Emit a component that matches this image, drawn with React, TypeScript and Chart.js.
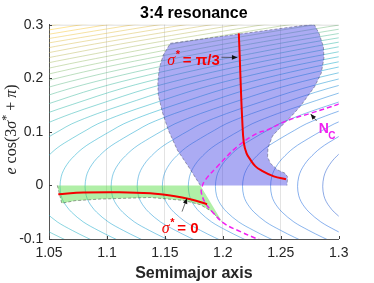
import { useEffect, useRef } from 'react';
import { Chart, registerables } from 'chart.js';

Chart.register(...registerables);

const W = 374;
const H = 283;

// ---------- axes ----------
const xTickValues = [1.05, 1.1, 1.15, 1.2, 1.25, 1.3];
const xTickLabels = ['1.05', '1.1', '1.15', '1.2', '1.25', '1.3'];
const yTickValues = [-0.1, 0, 0.1, 0.2, 0.3];
const yTickLabels = ['-0.1', '0', '0.1', '0.2', '0.3'];
const titleText = '3:4 resonance';
const xAxisTitle = 'Semimajor axis';

// ---------- contour levels (nose position of each level curve, right to left) ----------
const contourNoseA = [
  1.2862, 1.2645, 1.2412, 1.217, 1.1936, 1.1702, 1.1478, 1.1261, 1.1036, 1.0811,
  1.0595, 1.0371, 1.0147, 0.9923, 0.97, 0.9476, 0.9252, 0.9028, 0.8804, 0.858,
  0.8356, 0.8132, 0.7908, 0.7684, 0.746, 0.7236, 0.7012, 0.6788, 0.6564, 0.634,
];
const contourNoseY = -0.002;
// arc profile of a level curve measured from its nose (upper and lower branch)
const upperProfileDa = [0.001, 0.003, 0.006, 0.01, 0.02, 0.033, 0.045, 0.055, 0.077, 0.1, 0.143, 0.188, 0.232, 0.277, 0.321, 0.365, 0.41, 0.455];
const upperProfileDy = [0.018, 0.03, 0.041, 0.052, 0.072, 0.09, 0.105, 0.117, 0.136, 0.153, 0.183, 0.208, 0.229, 0.248, 0.266, 0.282, 0.298, 0.313];
const lowerProfileDa = [0.001, 0.003, 0.006, 0.01, 0.02, 0.033, 0.045, 0.055, 0.065];
const lowerProfileDy = [0.017, 0.028, 0.038, 0.048, 0.066, 0.082, 0.095, 0.105, 0.114];

// ---------- blue region ----------
const blueRegionA = [
  1.1806, 1.1711, 1.1607, 1.1529, 1.1478, 1.1443, 1.1439, 1.1452, 1.1486, 1.1547,
  1.2786, 1.283, 1.2868, 1.2873, 1.2849, 1.2792, 1.2729, 1.2671, 1.2602, 1.2516,
  1.2429, 1.239, 1.2386, 1.2412, 1.2473, 1.2537, 1.2559, 1.2554,
];
const blueRegionY = [
  0, 0.0326, 0.0662, 0.1035, 0.1371, 0.1688, 0.1931, 0.2192, 0.2435, 0.2653,
  0.3013, 0.284, 0.259, 0.2379, 0.2093, 0.1843, 0.1657, 0.1483, 0.1315, 0.1129,
  0.0924, 0.07, 0.0532, 0.041, 0.0289, 0.0228, 0.0159, 0,
];

// ---------- green region ----------
const greenRegionA = [1.0572, 1.061, 1.0725, 1.0941, 1.1374, 1.1662, 1.1806, 1.19, 1.1994, 1.1806];
const greenRegionY = [0, -0.0332, -0.0285, -0.0255, -0.0225, -0.028, -0.036, -0.048, -0.068, 0];

// ---------- red equilibrium branches ----------
const piBranchA = [1.2138, 1.2146, 1.2156, 1.2167, 1.2181, 1.2205, 1.2239, 1.228, 1.2325, 1.244, 1.2545];
const piBranchY = [0.284, 0.24, 0.18, 0.125, 0.08, 0.06, 0.0476, 0.036, 0.0289, 0.017, 0.0116];
const zeroBranchA = [1.058, 1.0797, 1.1086, 1.1374, 1.1575, 1.172, 1.1864];
const zeroBranchY = [-0.0164, -0.0134, -0.0127, -0.0146, -0.0196, -0.0257, -0.035];

// ---------- magenta Nc curve ----------
const ncA = [1.3005, 1.2758, 1.2556, 1.2383, 1.2297, 1.2124, 1.1951, 1.1849, 1.1821, 1.1815, 1.1849, 1.191, 1.2008, 1.2152, 1.2282, 1.233];
const ncY = [0.152, 0.1347, 0.121, 0.1035, 0.0974, 0.0724, 0.035, 0.0103, -0.002, -0.014, -0.0326, -0.0494, -0.0705, -0.0862, -0.0985, -0.102];

// ---------- annotations (data coordinates) ----------
const piLabelAt = { x: 1.1521, y: 0.2248 };
const zeroLabelAt = { x: 1.1473, y: -0.0896 };
const ncLabelAt = { x: 1.2827, y: 0.097 };
const piArrow = { x1: 1.1988, y1: 0.2392, x2: 1.2126, y2: 0.2388 };
const zeroArrow = { x1: 1.1648, y1: -0.0489, x2: 1.1691, y2: -0.0239 };
const ncArrow = { x1: 1.281, y1: 0.1203, x2: 1.2758, y2: 0.1334 };

// ---------- styling helpers ----------
const parulaStops = ['#352a87', '#0f5cdd', '#1481d6', '#06a4ca', '#2eb7a4', '#87bf77', '#d1bb59', '#fec832', '#f9fb0e'];
function hexToRgb(h: string) {
  return [parseInt(h.slice(1, 3), 16), parseInt(h.slice(3, 5), 16), parseInt(h.slice(5, 7), 16)];
}
function parula(t: number, alpha: number) {
  const s = Math.max(0, Math.min(1, t)) * (parulaStops.length - 1);
  const i = Math.min(parulaStops.length - 2, Math.floor(s));
  const f = s - i;
  const a = hexToRgb(parulaStops[i]);
  const b = hexToRgb(parulaStops[i + 1]);
  const c = a.map((v, j) => Math.round(v + (b[j] - v) * f));
  return `rgba(${c[0]},${c[1]},${c[2]},${alpha})`;
}
const zip = (xs: number[], ys: number[]) => xs.map((x, i) => ({ x, y: ys[i] }));

function contourPoints(noseA: number) {
  const pts: { x: number; y: number }[] = [];
  for (let i = lowerProfileDa.length - 1; i >= 0; i--) {
    pts.push({ x: noseA + lowerProfileDa[i], y: contourNoseY - lowerProfileDy[i] });
  }
  pts.push({ x: noseA, y: contourNoseY });
  for (let i = 0; i < upperProfileDa.length; i++) {
    pts.push({ x: noseA + upperProfileDa[i], y: contourNoseY + upperProfileDy[i] });
  }
  return pts;
}

function drawArrow(ctx: CanvasRenderingContext2D, x1: number, y1: number, x2: number, y2: number) {
  ctx.save();
  ctx.strokeStyle = '#303030';
  ctx.lineWidth = 0.7;
  ctx.beginPath();
  ctx.moveTo(x1, y1);
  ctx.lineTo(x2, y2);
  ctx.stroke();
  const ang = Math.atan2(y2 - y1, x2 - x1);
  const L = 5.5;
  const w = 2.3;
  const bx = x2 - L * Math.cos(ang);
  const by = y2 - L * Math.sin(ang);
  ctx.beginPath();
  ctx.moveTo(x2, y2);
  ctx.lineTo(bx - w * Math.sin(ang), by + w * Math.cos(ang));
  ctx.lineTo(bx + w * Math.sin(ang), by - w * Math.cos(ang));
  ctx.closePath();
  ctx.fillStyle = '#111';
  ctx.fill();
  ctx.restore();
}

const overlayPlugin = {
  id: 'overlay',
  afterDraw(chart: any) {
    const { ctx, chartArea: ca, scales } = chart;
    const px = (a: number) => scales.x.getPixelForValue(a);
    const py = (v: number) => scales.y.getPixelForValue(v);
    ctx.save();

    // faint top edge
    ctx.strokeStyle = 'rgba(38,38,38,0.15)';
    ctx.lineWidth = 1;
    ctx.beginPath();
    ctx.moveTo(ca.left, ca.top + 0.5);
    ctx.lineTo(ca.right, ca.top + 0.5);
    ctx.stroke();

    // inward tick marks
    ctx.strokeStyle = '#404040';
    ctx.lineWidth = 1;
    ctx.beginPath();
    xTickValues.forEach((v) => {
      const x = Math.round(px(v)) + 0.5;
      ctx.moveTo(x, ca.bottom);
      ctx.lineTo(x, ca.bottom - 3);
    });
    yTickValues.forEach((v) => {
      const y = Math.round(py(v)) + 0.5;
      ctx.moveTo(ca.left, y);
      ctx.lineTo(ca.left + 3, y);
    });
    ctx.stroke();

    // arrows
    drawArrow(ctx, px(piArrow.x1), py(piArrow.y1), px(piArrow.x2), py(piArrow.y2));
    drawArrow(ctx, px(zeroArrow.x1), py(zeroArrow.y1), px(zeroArrow.x2), py(zeroArrow.y2));
    drawArrow(ctx, px(ncArrow.x1), py(ncArrow.y1), px(ncArrow.x2), py(ncArrow.y2));

    // red labels
    ctx.fillStyle = '#f50000';
    ctx.textAlign = 'left';
    ctx.textBaseline = 'alphabetic';
    const drawSigmaLabel = (at: { x: number; y: number }, rest: string) => {
      const x0 = px(at.x);
      const y0 = py(at.y);
      ctx.font = 'italic 16px "Liberation Serif"';
      ctx.fillText('σ', x0, y0);
      ctx.font = 'bold 11px "Liberation Sans"';
      ctx.fillText('*', x0 + 8.5, y0 - 7);
      ctx.font = 'bold 15px "Liberation Sans"';
      ctx.fillText(rest, x0 + 15.5, y0);
    };
    drawSigmaLabel(piLabelAt, '= π/3');
    drawSigmaLabel(zeroLabelAt, '= 0');

    // Nc label
    ctx.fillStyle = '#f020f0';
    ctx.font = 'bold 14px "Liberation Sans"';
    const nx = px(ncLabelAt.x);
    const ny = py(ncLabelAt.y);
    ctx.fillText('N', nx, ny);
    ctx.font = 'bold 10px "Liberation Sans"';
    ctx.fillText('C', nx + 9.5, ny + 5.5);

    // title
    ctx.fillStyle = '#000';
    ctx.textAlign = 'center';
    ctx.font = 'bold 16px "Liberation Sans"';
    ctx.fillText(titleText, (ca.left + ca.right) / 2, 18.3);

    // x axis title
    ctx.fillStyle = '#262626';
    ctx.fillText(xAxisTitle, (ca.left + ca.right) / 2, 278.3);

    // y axis title (rotated, math style)
    const parts = [
      { t: 'e', f: 'italic 16px "Liberation Serif"', dy: 0 },
      { t: ' cos(3', f: '16px "Liberation Serif"', dy: 0 },
      { t: 'σ', f: 'italic 16px "Liberation Serif"', dy: 0 },
      { t: '*', f: '12px "Liberation Serif"', dy: -6 },
      { t: ' + ', f: '16px "Liberation Serif"', dy: 0 },
      { t: 'π', f: 'italic 16px "Liberation Serif"', dy: 0 },
      { t: ')', f: '16px "Liberation Serif"', dy: 0 },
    ];
    let total = 0;
    const widths = parts.map((p) => {
      ctx.font = p.f;
      const w = ctx.measureText(p.t).width;
      total += w;
      return w;
    });
    ctx.translate(16, 129.5);
    ctx.rotate(-Math.PI / 2);
    ctx.textAlign = 'left';
    let cx = -total / 2;
    parts.forEach((p, i) => {
      ctx.font = p.f;
      ctx.fillText(p.t, cx, p.dy);
      cx += widths[i];
    });
    ctx.restore();
  },
};

export default function App() {
  const ref = useRef<HTMLCanvasElement>(null);

  useEffect(() => {
    if (!ref.current) return;
    Chart.defaults.font.family = '"Liberation Sans", Arial, sans-serif';

    const contourSets = contourNoseA.map((a, k) => ({
      label: `level ${k + 1}`,
      data: contourPoints(a),
      showLine: true,
      borderColor: parula(0.1 + k * 0.028, 0.7),
      borderWidth: 0.7,
      pointRadius: 0,
      tension: 0.35,
      fill: false,
      order: 50,
    }));

    const datasets: any[] = [
      ...contourSets,
      {
        label: 'blue region',
        data: zip(blueRegionA, blueRegionY),
        showLine: true,
        borderWidth: 0,
        borderColor: 'rgba(0,0,0,0)',
        backgroundColor: 'rgba(60,60,228,0.43)',
        fill: 'shape',
        pointRadius: 0,
        tension: 0,
        order: 40,
      },
      {
        label: 'green region',
        data: zip(greenRegionA, greenRegionY),
        showLine: true,
        borderWidth: 0,
        borderColor: 'rgba(0,0,0,0)',
        backgroundColor: 'rgba(80,220,60,0.45)',
        fill: 'shape',
        pointRadius: 0,
        tension: 0,
        order: 40,
      },
      {
        label: 'blue edge',
        data: zip(blueRegionA, blueRegionY),
        showLine: true,
        borderWidth: 0.8,
        borderColor: 'rgba(60,60,80,0.55)',
        borderDash: [3, 2],
        pointRadius: 0,
        fill: false,
        order: 35,
      },
      {
        label: 'green edge',
        data: zip(greenRegionA.slice(0, 9), greenRegionY.slice(0, 9)),
        showLine: true,
        borderWidth: 0.8,
        borderColor: 'rgba(60,60,60,0.6)',
        borderDash: [3, 2],
        pointRadius: 0,
        fill: false,
        order: 35,
      },
      {
        label: 'Nc',
        data: zip(ncA, ncY),
        showLine: true,
        borderWidth: 1.5,
        borderColor: '#f020f0',
        borderDash: [5, 3],
        pointRadius: 0,
        tension: 0.4,
        fill: false,
        order: 30,
      },
      {
        label: 'sigma pi/3',
        data: zip(piBranchA, piBranchY),
        showLine: true,
        borderWidth: 2,
        borderColor: '#f50000',
        pointRadius: 0,
        tension: 0.4,
        fill: false,
        order: 20,
      },
      {
        label: 'sigma 0',
        data: zip(zeroBranchA, zeroBranchY),
        showLine: true,
        borderWidth: 2,
        borderColor: '#f50000',
        pointRadius: 0,
        tension: 0.4,
        fill: false,
        order: 20,
      },
    ];

    const chart = new Chart(ref.current, {
      type: 'scatter',
      data: { datasets },
      options: {
        animation: false,
        responsive: false,
        devicePixelRatio: 1,
        events: [],
        layout: { padding: { left: 0, top: 24.7, right: 35.3, bottom: 0 } },
        plugins: {
          legend: { display: false },
          tooltip: { enabled: false },
          title: { display: false },
        },
        scales: {
          x: {
            type: 'linear',
            min: 1.05,
            max: 1.3,
            afterBuildTicks: (s: any) => {
              s.ticks = xTickValues.map((v) => ({ value: v }));
            },
            afterFit: (s: any) => {
              s.height = 44;
            },
            ticks: {
              autoSkip: false,
              maxRotation: 0,
              minRotation: 0,
              padding: 6,
              color: '#262626',
              font: { size: 14, family: '"Liberation Sans"' },
              callback: (_v: any, i: number) => xTickLabels[i],
            },
            grid: {
              drawTicks: false,
              lineWidth: 1,
              color: (c: any) =>
                c.tick && c.tick.value > 1.06 && c.tick.value < 1.29 ? 'rgba(38,38,38,0.13)' : 'rgba(0,0,0,0)',
            },
            border: { display: true, color: '#555', width: 1 },
          },
          y: {
            type: 'linear',
            min: -0.1,
            max: 0.3,
            afterBuildTicks: (s: any) => {
              s.ticks = yTickValues.map((v) => ({ value: v }));
            },
            afterFit: (s: any) => {
              s.width = 49;
            },
            ticks: {
              autoSkip: false,
              padding: 5.7,
              color: '#262626',
              font: { size: 14, family: '"Liberation Sans"' },
              callback: (_v: any, i: number) => yTickLabels[i],
            },
            grid: { display: false, drawTicks: false },
            border: { display: true, color: '#555', width: 1 },
          },
        },
      },
      plugins: [overlayPlugin],
    } as any);

    return () => chart.destroy();
  }, []);

  return (
    <div style={{ position: 'fixed', left: 0, top: 0, width: W, height: H, background: '#fff' }}>
      <canvas ref={ref} width={W} height={H} style={{ display: 'block', width: W, height: H }} />
    </div>
  );
}
